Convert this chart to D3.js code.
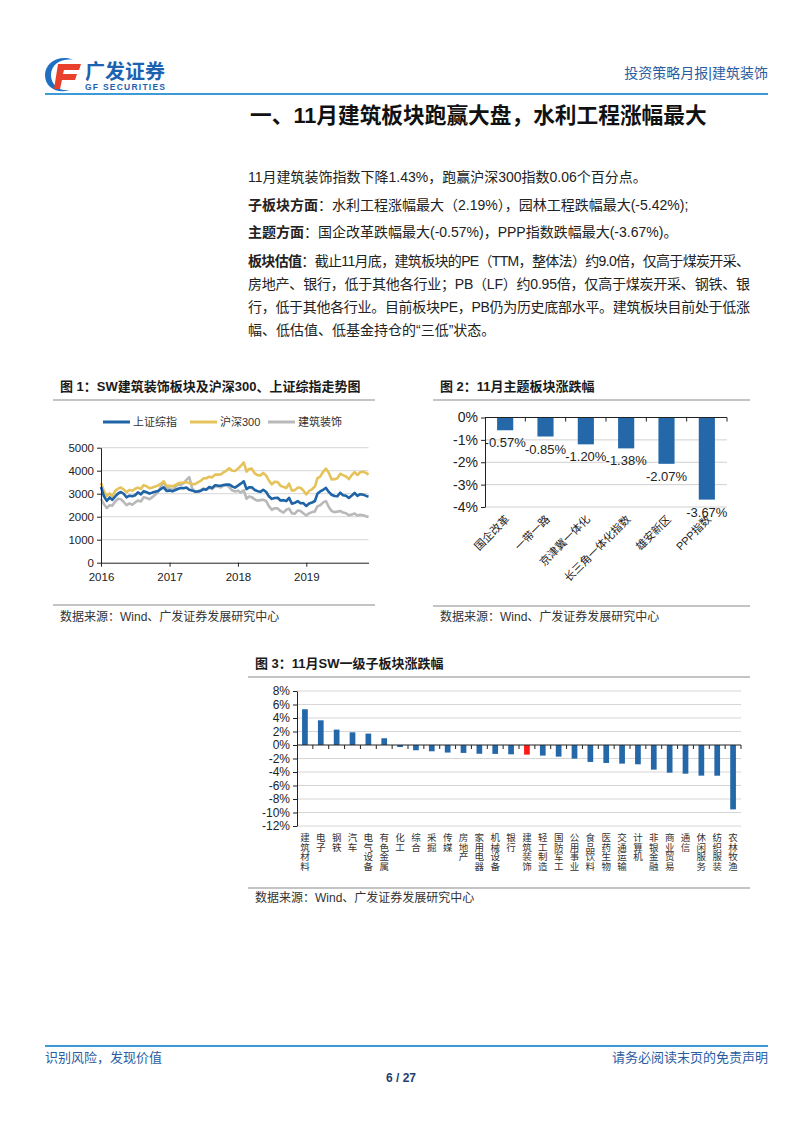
<!DOCTYPE html>
<html><head><meta charset="utf-8">
<script src="https://cdn.jsdelivr.net/npm/d3@7"></script>
<style>
body{margin:0;background:#fff}
svg{display:block}
text{font-family:"Liberation Sans","Noto Sans CJK SC",sans-serif}
</style>
</head><body>
<svg id="c" width="802" height="1133"></svg>
<script>
// ---------------- DATA ----------------
const months = ["2016-01","2016-02","2016-03","2016-04","2016-05","2016-06","2016-07","2016-08","2016-09","2016-10","2016-11","2016-12",
"2017-01","2017-02","2017-03","2017-04","2017-05","2017-06","2017-07","2017-08","2017-09","2017-10","2017-11","2017-12",
"2018-01","2018-02","2018-03","2018-04","2018-05","2018-06","2018-07","2018-08","2018-09","2018-10","2018-11","2018-12",
"2019-01","2019-02","2019-03","2019-04","2019-05","2019-06","2019-07","2019-08","2019-09","2019-10","2019-11"];
const halfMonthDays = ["01","16"];
const lastDate = "2019-11-29";
const shIndex = [3296,2900, 2688,2836, 2733,2870, 3009,3074, 2997,2843, 2913,2887, 2932,3054, 2970,3110, 3063,3002, 3048,3084, 3122,3206, 3273,3123,
3135,3103, 3159,3217, 3246,3241, 3270,3173, 3143,3090, 3102,3123, 3195,3176, 3292,3251, 3367,3353, 3348,3378, 3395,3402, 3317,3266,
3349,3436, 3540,3199, 3273,3279, 3163,3110, 3081,3169, 3075,2875, 2775,2814, 2824,2705, 2720,2681, 2821,2568, 2606,2679, 2588,2593,
2465,2570, 2618,2682, 2994,3096, 3170,3253, 3078,2955, 2898,2887, 3044,2937, 2908,2815, 2924,3031, 2905,2977, 2958,2905, 2871];
const hs300 = [3470,3118, 2901,3013, 2877,3115, 3219,3272, 3184,3071, 3160,3127, 3213,3264, 3206,3375, 3320,3237, 3269,3309, 3360,3440, 3535,3340,
3342,3319, 3376,3452, 3472,3483, 3504,3459, 3428,3410, 3492,3555, 3668,3672, 3735,3710, 3833,3828, 3837,3926, 4006,4111, 3998,3989,
4087,4203, 4360,3962, 4074,4090, 3880,3809, 3793,3903, 3787,3563, 3407,3517, 3509,3343, 3296,3245, 3438,3133, 3154,3264, 3259,3143,
2969,3117, 3202,3312, 3671,3744, 3954,4085, 3913,3623, 3632,3671, 3868,3807, 3747,3636, 3814,3935, 3814,3933, 3953,3905, 3828];
const swBuild = [2780,2550, 2380,2500, 2480,2650, 2780,2760, 2650,2500, 2580,2520, 2620,2700, 2660,2850, 2810,2760, 2850,2950, 3080,3300, 3520,3250,
3230,3150, 3300,3400, 3380,3450, 3600,3720, 3250,3100, 3080,3150, 3230,3180, 3260,3200, 3330,3310, 3270,3350, 3380,3280, 3150,3100,
3130,3050, 3150,2780, 2880,2850, 2750,2700, 2720,2740, 2680,2450, 2300,2370, 2360,2250, 2180,2300, 2350,2150, 2130,2270, 2250,2150,
2050,2150, 2200,2230, 2450,2500, 2620,2680, 2420,2250, 2200,2220, 2250,2180, 2150,2060, 2100,2140, 2050,2080, 2060,2020, 1990];
const seriesNames = ["上证综指","沪深300","建筑装饰"];
const yearTicks = ["2016","2017","2018","2019"];
const lineTicks = [0,1000,2000,3000,4000,5000];

const themeCats = ["国企改革","一带一路","京津冀一体化","长三角一体化指数","雄安新区","PPP指数"];
const themeVals = [-0.57,-0.85,-1.20,-1.38,-2.07,-3.67];
const themeTicks = [0,-1,-2,-3,-4];

const swCats = ["建筑材料","电子","钢铁","汽车","电气设备","有色金属","化工","综合","采掘","传媒","房地产","家用电器","机械设备","银行","建筑装饰","轻工制造","国防军工","公用事业","食品饮料","医药生物","交通运输","计算机","非银金融","商业贸易","通信","休闲服务","纺织服装","农林牧渔"];
const swVals = [5.3,3.66,2.28,1.88,1.69,1.0,-0.3,-0.78,-0.93,-1.12,-1.17,-1.3,-1.32,-1.38,-1.43,-1.57,-1.72,-2.02,-2.51,-2.66,-2.76,-2.86,-3.65,-4.1,-4.25,-4.54,-4.55,-9.54];
const swTicks = [8,6,4,2,0,-2,-4,-6,-8,-10,-12];
const highlightCat = "建筑装饰";

// ---------------- STYLE ----------------
const BLUE = "#1f64a6", YELLOW = "#e5c35a", GRAY = "#b9b9b9", BAR = "#2468a9", RED = "#ff1a1a";
const svg = d3.select("#c");

// ---------------- HEADER ----------------
const logo = svg.append("g");
logo.append("path").attr("d","M74,60 C60,54 45,62 45,75 C45,88 58,94 70,90 C60,92 51,85 51,75 C51,64 62,58 74,60 Z").attr("fill","#1f6fc2");
logo.append("path").attr("d","M58,64 L81,64 L79,70 L64,70 L63,74 L77,74 L75,80 L62,80 L60,89 L54,89 Z").attr("fill","#e8402a");
logo.append("text").attr("x",85).attr("y",79).attr("font-size",20).attr("font-weight","bold").attr("fill","#1d62b0").attr("font-family","Noto Sans CJK SC").text("广发证券");
logo.append("text").attr("x",85).attr("y",90).attr("font-size",8.5).attr("font-weight","bold").attr("fill","#1d62b0").attr("textLength",80).text("GF SECURITIES");
svg.append("text").attr("x",768).attr("y",78).attr("text-anchor","end").attr("font-size",14).attr("fill","#2a5d9f").text("投资策略月报|建筑装饰");
svg.append("line").attr("x1",45).attr("x2",768).attr("y1",94).attr("y2",94).attr("stroke","#3d9ad8").attr("stroke-width",2);

svg.append("text").attr("x",250).attr("y",123).attr("font-size",21.7).attr("font-weight","bold").attr("fill","#111").text("一、11月建筑板块跑赢大盘，水利工程涨幅最大");

// ---------------- PARAGRAPH ----------------
const para = [
  {b:"", t:"11月建筑装饰指数下降1.43%，跑赢沪深300指数0.06个百分点。", y:182},
  {b:"子板块方面", t:"：水利工程涨幅最大（2.19%），园林工程跌幅最大(-5.42%);", y:210},
  {b:"主题方面", t:"：国企改革跌幅最大(-0.57%)，PPP指数跌幅最大(-3.67%)。", y:237},
  {b:"板块估值", t:"：截止11月底，建筑板块的PE（TTM，整体法）约9.0倍，仅高于煤炭开采、", y:266, j:true},
  {b:"", t:"房地产、银行，低于其他各行业；PB（LF）约0.95倍，仅高于煤炭开采、钢铁、银", y:289, j:true},
  {b:"", t:"行，低于其他各行业。目前板块PE，PB仍为历史底部水平。建筑板块目前处于低涨", y:312, j:true},
  {b:"", t:"幅、低估值、低基金持仓的“三低”状态。", y:335}
];
para.forEach(p=>{
  const t = svg.append("text").attr("x",248).attr("y",p.y).attr("font-size",14).attr("fill","#222");
  if (p.j) t.attr("textLength",502).attr("lengthAdjust","spacing");
  if (p.b) t.append("tspan").attr("font-weight","bold").text(p.b);
  t.append("tspan").text(p.t);
});

// ---------------- helpers ----------------
function chartFrame(x1,x2,titleY,title,ruleY,srcY){
  svg.append("text").attr("x",x1+7).attr("y",titleY).attr("font-size",13).attr("font-weight","bold").attr("fill","#1a1a1a").text(title);
  svg.append("line").attr("x1",x1).attr("x2",x2).attr("y1",titleY+9).attr("y2",titleY+9).attr("stroke","#8a8a8a").attr("stroke-width",1.2);
  svg.append("line").attr("x1",x1).attr("x2",x2).attr("y1",ruleY).attr("y2",ruleY).attr("stroke","#8a8a8a").attr("stroke-width",1.2);
  svg.append("text").attr("x",x1+7).attr("y",srcY).attr("font-size",12).attr("fill","#333").text("数据来源：Wind、广发证券发展研究中心");
}

// ---------------- CHART 1 ----------------
chartFrame(53,375,391,"图 1：SW建筑装饰板块及沪深300、上证综指走势图",605,621);
const parse = d3.timeParse("%Y-%m-%d");
const dates = [];
months.forEach(m=>halfMonthDays.forEach(d=>dates.push(parse(m+"-"+d))));
dates.push(parse(lastDate));
const x1 = d3.scaleTime().domain([parse("2016-01-01"),parse(lastDate)]).range([101,368.5]);
const y1 = d3.scaleLinear().domain([0,5000]).range([562.7,447.7]);
const g1 = svg.append("g");
g1.selectAll("line.grid").data(lineTicks.filter(d=>d>0)).join("line").attr("x1",101).attr("x2",368.5)
  .attr("y1",d=>y1(d)).attr("y2",d=>y1(d)).attr("stroke","#d6d6d6").attr("stroke-width",1);
const seriesData = [shIndex,hs300,swBuild];
const colors = [BLUE,YELLOW,GRAY];
const line = d3.line().x((d,i)=>x1(dates[i])).y(d=>y1(d));
[2,1,0].forEach(k=>{
  g1.append("path").datum(seriesData[k]).attr("d",line).attr("fill","none").attr("stroke",colors[k]).attr("stroke-width",2.6).attr("stroke-linejoin","round");
});
const ax1 = g1.append("g").attr("transform","translate(101,0)").call(d3.axisLeft(y1).tickValues(lineTicks).tickFormat(d3.format("d")).tickSize(4).tickSizeOuter(0));
const ax1x = g1.append("g").attr("transform","translate(0,562.7)").call(d3.axisBottom(x1).tickValues(yearTicks.map(y=>parse(y+"-01-01"))).tickFormat(d3.timeFormat("%Y")).tickSize(4).tickSizeOuter(0));
[ax1,ax1x].forEach(a=>{a.selectAll("text").attr("font-size",11.5).attr("fill","#222").attr("font-family","Liberation Sans"); a.selectAll("path,line").attr("stroke","#222");});
ax1x.selectAll("text").attr("dy","0.95em");
// legend
const legX = [103,190,268];
seriesNames.forEach((n,i)=>{
  svg.append("line").attr("x1",legX[i]).attr("x2",legX[i]+27).attr("y1",422).attr("y2",422).attr("stroke",colors[i]).attr("stroke-width",3);
  svg.append("text").attr("x",legX[i]+30).attr("y",426).attr("font-size",11).attr("fill","#333").text(n);
});

// ---------------- CHART 2 ----------------
chartFrame(433,750,391,"图 2：11月主题板块涨跌幅",606,621);
const x2 = d3.scaleBand().domain(themeCats).range([485,727]).paddingInner(0.6).paddingOuter(0.3);
const y2 = d3.scaleLinear().domain([-4,0]).range([507,417.5]);
const g2 = svg.append("g");
g2.selectAll("line.grid").data(themeTicks.filter(d=>d<0)).join("line").attr("x1",485).attr("x2",727)
  .attr("y1",d=>y2(d)).attr("y2",d=>y2(d)).attr("stroke","#d0d0d0");
g2.selectAll("rect").data(themeVals).join("rect").attr("x",(d,i)=>x2(themeCats[i])).attr("width",x2.bandwidth())
  .attr("y",y2(0)).attr("height",d=>y2(d)-y2(0)).attr("fill",BAR);
g2.selectAll("text.val").data(themeVals).join("text").attr("x",(d,i)=>x2(themeCats[i])+x2.bandwidth()/2).attr("y",d=>y2(d)+17)
  .attr("text-anchor","middle").attr("font-size",13).attr("fill","#222").text(d=>d.toFixed(2)+"%");
const ax2 = g2.append("g").attr("transform","translate(485,0)").call(d3.axisLeft(y2).tickValues(themeTicks).tickFormat(d=>d+"%").tickSize(4).tickSizeOuter(0));
ax2.selectAll("text").attr("font-size",14).attr("fill","#222");
ax2.selectAll("path,line").attr("stroke","#222");
g2.append("line").attr("x1",485).attr("x2",727).attr("y1",y2(0)).attr("y2",y2(0)).attr("stroke","#222");
const step2 = x2.step();
g2.selectAll("line.tk").data(d3.range(1,7)).join("line").attr("x1",d=>485+d*step2).attr("x2",d=>485+d*step2)
  .attr("y1",y2(0)).attr("y2",y2(0)+4).attr("stroke","#222");
g2.selectAll("text.cat").data(themeCats).join("text")
  .attr("transform",d=>`translate(${x2(d)+x2.bandwidth()/2+5},${y2(-4)+13}) rotate(-45)`)
  .attr("text-anchor","end").attr("font-size",11).attr("fill","#222").text(d=>d);

// ---------------- CHART 3 ----------------
chartFrame(248,750,668,"图 3：11月SW一级子板块涨跌幅",888,902);
const x3 = d3.scaleBand().domain(swCats).range([297,741]).paddingInner(0.64).paddingOuter(0.32);
const y3 = d3.scaleLinear().domain([-12,8]).range([826,691]);
const g3 = svg.append("g");
g3.selectAll("line.grid").data(swTicks.filter(d=>d!==0)).join("line").attr("x1",297).attr("x2",741)
  .attr("y1",d=>y3(d)).attr("y2",d=>y3(d)).attr("stroke","#d6d6d6");
g3.selectAll("rect").data(swVals).join("rect").attr("x",(d,i)=>x3(swCats[i])).attr("width",x3.bandwidth())
  .attr("y",d=>y3(Math.max(0,d))).attr("height",d=>Math.abs(y3(d)-y3(0)))
  .attr("fill",(d,i)=>swCats[i]===highlightCat?RED:BAR);
const ax3 = g3.append("g").attr("transform","translate(297,0)").call(d3.axisLeft(y3).tickValues(swTicks).tickFormat(d=>d+"%").tickSize(4).tickSizeOuter(0));
ax3.selectAll("text").attr("font-size",12).attr("fill","#222");
ax3.selectAll("path,line").attr("stroke","#222");
g3.append("line").attr("x1",297).attr("x2",741).attr("y1",y3(0)).attr("y2",y3(0)).attr("stroke","#222");
const step3 = x3.step();
g3.selectAll("line.tk").data(d3.range(1,29)).join("line").attr("x1",d=>297+d*step3).attr("x2",d=>297+d*step3)
  .attr("y1",y3(0)).attr("y2",y3(0)+4).attr("stroke","#222");
swCats.forEach(c=>{
  const t = g3.append("text").attr("font-size",9.5).attr("fill","#333").attr("text-anchor","middle");
  Array.from(c).forEach((ch,k)=>{
    t.append("tspan").attr("x",x3(c)+x3.bandwidth()/2).attr("y",841+k*9.6).text(ch);
  });
});

// ---------------- FOOTER ----------------
svg.append("line").attr("x1",45).attr("x2",768).attr("y1",1046).attr("y2",1046).attr("stroke","#3d9ad8").attr("stroke-width",2);
svg.append("text").attr("x",45).attr("y",1062).attr("font-size",13).attr("fill","#2a5d9f").text("识别风险，发现价值");
svg.append("text").attr("x",768).attr("y",1062).attr("text-anchor","end").attr("font-size",13).attr("fill","#2a5d9f").text("请务必阅读末页的免责声明");
svg.append("text").attr("x",401).attr("y",1082).attr("text-anchor","middle").attr("font-size",12).attr("font-weight","bold").attr("fill","#1f3f6f").text("6 / 27");
</script>
</body></html>
